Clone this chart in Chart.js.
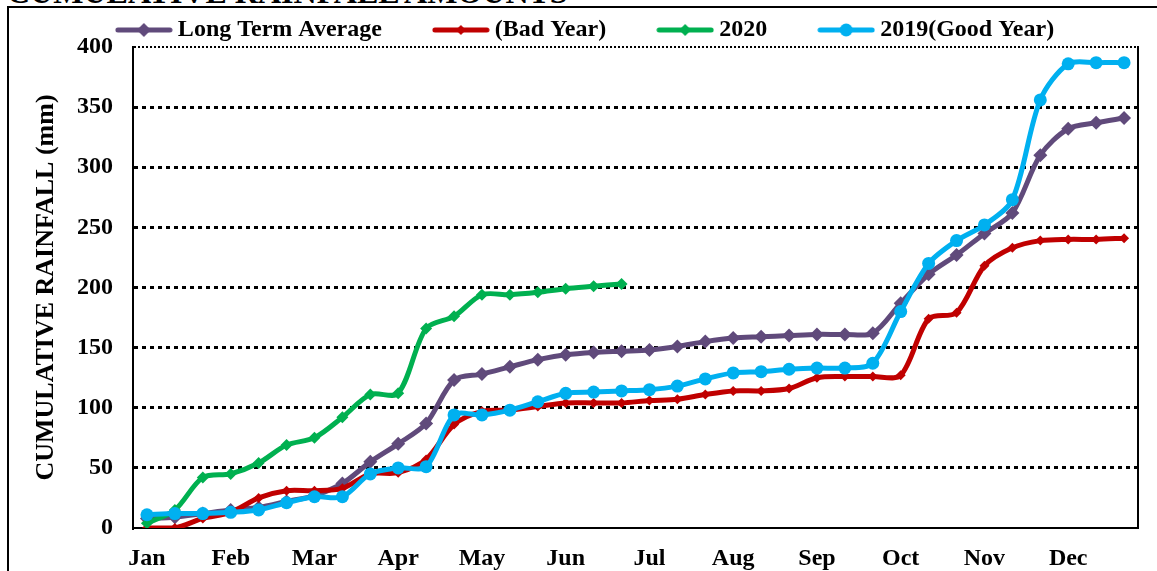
<!DOCTYPE html>
<html>
<head>
<meta charset="utf-8">
<script src="https://cdn.jsdelivr.net/npm/chart.js@4.4.1/dist/chart.umd.min.js"></script>
<style>
  body { margin: 0; background: #fff; overflow: hidden; }
  #title {
    position: absolute; left: 7px; top: -26px; line-height: 32px;
    font: bold 32px "Liberation Serif", serif; color: #000; white-space: nowrap;
  }
  #frame {
    position: absolute; left: 7px; top: 6px; width: 1170px; height: 600px;
    border: 2px solid #000;
  }
  #wrap { position: absolute; left: 0; top: 0; width: 1157px; height: 571px; }
</style>
</head>
<body>
<div id="title">CUMULATIVE RAINFALL AMOUNTS</div>
<div id="frame"></div>
<div id="wrap"><canvas id="myChart" width="1157" height="571"></canvas></div>
<script>
// three dekads per month
const months = ['Jan', 'Feb', 'Mar', 'Apr', 'May', 'Jun', 'Jul', 'Aug', 'Sep', 'Oct', 'Nov', 'Dec']
const dekads = months.flatMap(m => [m + ' 1', m + ' 2', m + ' 3'])

const longTermAvg = [8, 9, 12, 15, 17, 22, 27, 37, 55, 70, 87, 123, 128, 134, 140, 144, 146, 147,
  148, 151, 155, 158, 159, 160, 161, 161, 162, 187, 211, 227, 245, 262, 310, 332, 337, 341]
const badYear = [0, 0, 8, 13, 25, 31, 31, 33, 45, 46, 57, 86, 97, 98, 101, 104, 104, 104,
  106, 107, 111, 114, 114, 116, 125, 126, 126, 127, 174, 179, 218, 233, 239, 240, 240, 241]
const year2020 = [4, 15, 42, 45, 54, 69, 75, 92, 111, 112, 166, 176, 194, 194, 196, 199, 201, 203]
const goodYear2019 = [11, 12, 12, 13, 15, 21, 26, 26, 45, 50, 51, 94, 94, 98, 105, 112, 113, 114,
  115, 118, 124, 129, 130, 132, 133, 133, 137, 180, 220, 239, 252, 273, 356, 386, 387, 387]

const yTicks = [0, 50, 100, 150, 200, 250, 300, 350, 400]

const FONT = 'Liberation Serif'

function legendIcon(color, shape, r) {
  const c = document.createElement('canvas')
  c.width = 58
  c.height = 18
  const g = c.getContext('2d')
  g.strokeStyle = color
  g.fillStyle = color
  g.lineWidth = 5
  g.lineCap = 'round'
  g.beginPath()
  g.moveTo(3, 9)
  g.lineTo(55, 9)
  g.stroke()
  g.beginPath()
  if (shape === 'circle') {
    g.arc(29, 9, r, 0, Math.PI * 2)
  } else {
    g.moveTo(29, 9 - r)
    g.lineTo(29 + r, 9)
    g.lineTo(29, 9 + r)
    g.lineTo(29 - r, 9)
    g.closePath()
  }
  g.fill()
  return c
}

const series = [
  { label: 'Long Term Average', data: longTermAvg, color: '#604A7B', shape: 'rectRot', r: 7, order: 3 },
  { label: '(Bad Year)', data: badYear, color: '#C00000', shape: 'rectRot', r: 5, order: 2 },
  { label: '2020', data: year2020, color: '#00B050', shape: 'rectRot', r: 6, order: 1 },
  { label: '2019(Good Year)', data: goodYear2019, color: '#00B0F0', shape: 'circle', r: 6.5, order: 0 }
]

const config = {
  type: 'line',
  data: {
    labels: dekads,
    datasets: series.map(s => ({
      label: s.label,
      data: s.data,
      borderColor: s.color,
      backgroundColor: s.color,
      borderWidth: 5,
      tension: 0.3,
      pointStyle: s.shape,
      pointRadius: s.r,
      pointBorderWidth: 0,
      order: s.order,
      fill: false
    }))
  },
  options: {
    responsive: false,
    animation: false,
    devicePixelRatio: 1,
    layout: { padding: { left: 19, right: 0, top: -39, bottom: 0 } },
    plugins: {
      tooltip: { enabled: false },
      legend: {
        position: 'top',
        maxHeight: 86,
        labels: {
          usePointStyle: true,
          pointStyleWidth: 44,
          padding: 57,
          color: '#000',
          font: { family: FONT, size: 24, weight: 'bold' },
          generateLabels: chart => series.map((s, i) => ({
            text: s.label,
            datasetIndex: i,
            pointStyle: legendIcon(s.color, s.shape, s.r),
            fillStyle: s.color,
            strokeStyle: s.color,
            lineWidth: 0,
            hidden: false
          }))
        }
      }
    },
    scales: {
      x: {
        type: 'category',
        offset: true,
        grid: { display: false, drawTicks: false },
        border: { display: true, color: '#000', width: 2 },
        ticks: {
          autoSkip: false,
          maxRotation: 0,
          padding: 16,
          color: '#000',
          font: { family: FONT, size: 24, weight: 'bold' },
          callback: (v, i) => i % 3 === 0 ? months[i / 3] : ''
        },
        afterFit: scale => { scale.height = 43 }
      },
      y: {
        min: 0,
        max: 400,
        afterBuildTicks: scale => { scale.ticks = yTicks.map(v => ({ value: v })) },
        grid: {
          drawTicks: false,
          color: ctx => ctx.tick && ctx.tick.value === 0 ? 'rgba(0,0,0,0)' : '#000',
          lineWidth: ctx => ctx.tick && ctx.tick.value === 400 ? 2 : 3
        },
        border: {
          display: true,
          color: '#000',
          width: 2,
          dash: ctx => ctx.tick && ctx.tick.value === 400 ? [2, 2] : [4, 4]
        },
        ticks: {
          padding: 20,
          color: '#000',
          font: { family: FONT, size: 24, weight: 'bold' }
        },
        title: {
          display: true,
          text: 'CUMULATIVE RAINFALL (mm)',
          color: '#000',
          padding: { top: 12, bottom: 0 },
          font: { family: FONT, size: 26, weight: 'bold' }
        },
        afterFit: scale => { scale.width = 114 }
      },
      y2: {
        position: 'right',
        min: 0,
        max: 400,
        grid: { display: false, drawTicks: false },
        border: { display: true, color: '#000', width: 2 },
        ticks: { display: false },
        afterFit: scale => { scale.width = 19 }
      }
    }
  }
}

const myChart = new Chart(document.getElementById('myChart'), config)
</script>
</body>
</html>
